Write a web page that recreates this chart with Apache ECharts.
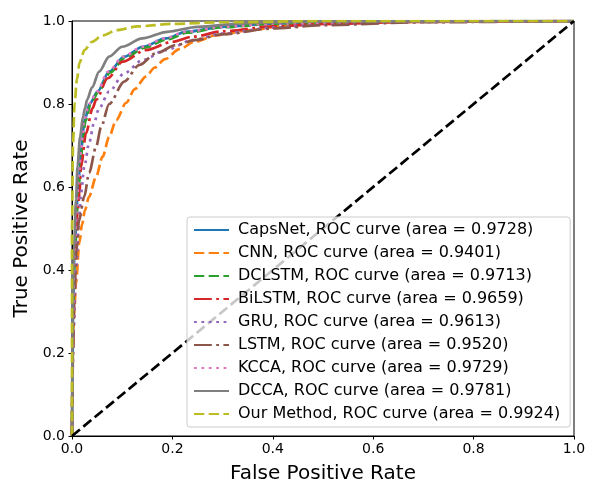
<!DOCTYPE html>
<html><head><meta charset="utf-8">
<script src="https://cdn.jsdelivr.net/npm/echarts@6/dist/echarts.min.js"></script>
<style>html,body{margin:0;padding:0;background:#fff}#c{width:600px;height:500px}</style>
</head><body><div id="c"></div>
<script>
const seriesNames = [
  'CapsNet, ROC curve (area = 0.9728)',
  'CNN, ROC curve (area = 0.9401)',
  'DCLSTM, ROC curve (area = 0.9713)',
  'BiLSTM, ROC curve (area = 0.9659)',
  'GRU, ROC curve (area = 0.9613)',
  'LSTM, ROC curve (area = 0.9520)',
  'KCCA, ROC curve (area = 0.9729)',
  'DCCA, ROC curve (area = 0.9781)',
  'Our Method, ROC curve (area = 0.9924)'
];
const tickValues = [0, 0.2, 0.4, 0.6, 0.8, 1.0];

const capsnetFpr = [0, 0.001, 0.002, 0.005, 0.011, 0.015, 0.018, 0.025, 0.035, 0.051, 0.074, 0.104, 0.141, 0.187, 0.227, 0.3, 0.4, 0.6, 1];
const capsnetTpr = [0, 0.15, 0.3, 0.45, 0.57, 0.634, 0.69, 0.76, 0.8, 0.83, 0.878, 0.914, 0.938, 0.958, 0.974, 0.986, 0.994, 0.999, 1];

const cnnFpr = [0, 0.001, 0.0026, 0.0046, 0.008, 0.0146, 0.02, 0.026, 0.034, 0.048, 0.061, 0.074, 0.088, 0.108, 0.125, 0.147, 0.165, 0.185, 0.214, 0.244, 0.288, 0.355, 0.42, 0.5, 0.6, 0.8, 1];
const cnnTpr = [0, 0.15, 0.255, 0.304, 0.369, 0.465, 0.51, 0.545, 0.577, 0.625, 0.673, 0.721, 0.761, 0.803, 0.836, 0.866, 0.888, 0.908, 0.932, 0.95, 0.966, 0.978, 0.988, 0.993, 0.997, 1, 1];

const dclstmFpr = [0, 0.001, 0.002, 0.006, 0.012, 0.016, 0.02, 0.027, 0.037, 0.053, 0.076, 0.106, 0.145, 0.19, 0.23, 0.3, 0.4, 0.6, 1];
const dclstmTpr = [0, 0.15, 0.3, 0.45, 0.57, 0.634, 0.69, 0.76, 0.8, 0.83, 0.876, 0.912, 0.936, 0.956, 0.972, 0.985, 0.993, 0.999, 1];

const bilstmFpr = [0, 0.002, 0.006, 0.011, 0.015, 0.018, 0.028, 0.041, 0.048, 0.071, 0.101, 0.147, 0.2, 0.24, 0.3, 0.4, 0.5, 0.7, 1];
const bilstmTpr = [0, 0.25, 0.42, 0.537, 0.585, 0.649, 0.73, 0.79, 0.81, 0.862, 0.902, 0.93, 0.95, 0.962, 0.975, 0.987, 0.993, 0.998, 1];

const gruFpr = [0, 0.003, 0.008, 0.0146, 0.018, 0.0245, 0.034, 0.044, 0.054, 0.074, 0.104, 0.141, 0.187, 0.24, 0.3, 0.4, 0.5, 0.7, 1];
const gruTpr = [0, 0.25, 0.4, 0.528, 0.585, 0.649, 0.706, 0.755, 0.79, 0.83, 0.874, 0.906, 0.93, 0.954, 0.97, 0.984, 0.992, 0.998, 1];

const lstmFpr = [0, 0.002, 0.005, 0.009, 0.014, 0.0245, 0.034, 0.048, 0.058, 0.074, 0.104, 0.134, 0.167, 0.207, 0.244, 0.3, 0.4, 0.5, 0.7, 1];
const lstmTpr = [0, 0.2, 0.35, 0.45, 0.52, 0.577, 0.634, 0.697, 0.745, 0.8, 0.854, 0.894, 0.922, 0.942, 0.954, 0.968, 0.982, 0.99, 0.997, 1];

const kccaFpr = [0, 0.001, 0.002, 0.005, 0.01, 0.014, 0.018, 0.024, 0.034, 0.05, 0.072, 0.102, 0.14, 0.185, 0.225, 0.3, 0.4, 0.6, 1];
const kccaTpr = [0, 0.15, 0.3, 0.45, 0.57, 0.634, 0.69, 0.76, 0.8, 0.83, 0.878, 0.914, 0.938, 0.958, 0.974, 0.986, 0.994, 0.999, 1];

const dccaFpr = [0, 0.001, 0.004, 0.008, 0.011, 0.016, 0.022, 0.026, 0.03, 0.04, 0.054, 0.074, 0.1, 0.14, 0.19, 0.25, 0.35, 0.5, 1];
const dccaTpr = [0, 0.3, 0.45, 0.57, 0.65, 0.72, 0.77, 0.79, 0.81, 0.84, 0.878, 0.914, 0.938, 0.958, 0.974, 0.986, 0.995, 0.999, 1];

const oursFpr = [0, 0, 0.002, 0.005, 0.01, 0.015, 0.025, 0.04, 0.06, 0.09, 0.13, 0.2, 0.3, 0.5, 1];
const oursTpr = [0, 0.5, 0.7, 0.8, 0.86, 0.9, 0.93, 0.95, 0.965, 0.978, 0.987, 0.993, 0.997, 1, 1];

const chanceFpr = [0, 1];
const chanceTpr = [0, 1];

const curveData = [
  [capsnetFpr, capsnetTpr], [cnnFpr, cnnTpr], [dclstmFpr, dclstmTpr],
  [bilstmFpr, bilstmTpr], [gruFpr, gruTpr], [lstmFpr, lstmTpr],
  [kccaFpr, kccaTpr], [dccaFpr, dccaTpr], [oursFpr, oursTpr]
];

// styles
const colors = ['#1f77b4', '#ff7f0e', '#2ca02c', '#d62728', '#9467bd', '#8c564b', '#e377c2', '#7f7f7f', '#bcbd22'];
const DASHED = [10.3, 4.4], DASHDOT = [17.8, 4.4, 2.8, 4.4], DOTTED = [2.8, 4.6];
const dashes = ['solid', DASHED, DASHED, DASHDOT, DOTTED, DASHDOT, DOTTED, 'solid', DASHED];
const LW = 2.7;
const FONT = 'DejaVu Sans';

const zip = (a, b) => a.map((v, i) => [v, b[i]]);

const series = curveData.map((d, i) => ({
  name: seriesNames[i],
  type: 'line',
  data: zip(d[0], d[1]),
  symbol: 'none',
  showSymbol: false,
  smooth: 0.3,
  smoothMonotone: 'x',
  animation: false,
  clip: true,
  lineStyle: { color: colors[i], width: LW, type: dashes[i], cap: 'butt' },
  itemStyle: { color: colors[i] },
  z: 2 + i * 0.01
}));
series.push({
  name: 'chance',
  type: 'line',
  data: zip(chanceFpr, chanceTpr),
  symbol: 'none',
  animation: false,
  silent: true,
  lineStyle: { color: '#000', width: LW, type: DASHED, cap: 'butt' },
  z: 3
});

const axisCommon = {
  type: 'value', min: 0, max: 1, interval: 0.2,
  axisLine: { show: true, lineStyle: { color: '#000', width: 1 } },
  axisTick: { show: true, inside: false, length: 3.5, lineStyle: { color: '#000', width: 1 } },
  splitLine: { show: false },
  axisLabel: { color: '#000', fontFamily: FONT, fontSize: 14, formatter: v => v.toFixed(1) },
  nameLocation: 'middle',
  nameTextStyle: { color: '#000', fontFamily: FONT, fontSize: 20 }
};

const chart = echarts.init(document.getElementById('c'), null, { renderer: 'canvas' });
chart.setOption({
  animation: false,
  backgroundColor: '#fff',
  grid: { left: 72, right: 26, top: 21, bottom: 64, show: true, borderColor: '#000', borderWidth: 1, backgroundColor: 'transparent' },
  xAxis: Object.assign({}, axisCommon, {
    name: 'False Positive Rate', nameGap: 28,
    axisLabel: Object.assign({}, axisCommon.axisLabel, { margin: 6 })
  }),
  yAxis: Object.assign({}, axisCommon, {
    name: 'True Positive Rate', nameGap: 39,
    axisLabel: Object.assign({}, axisCommon.axisLabel, { margin: 7 })
  }),
  legend: {
    data: seriesNames,
    orient: 'vertical',
    left: 187, top: 217,
    padding: [5, 10, 5, 6],
    itemWidth: 35, itemHeight: 14, itemGap: 7,
    itemStyle: { opacity: 0 },
    backgroundColor: 'rgba(255,255,255,0.78)',
    borderColor: '#cccccc', borderWidth: 1, borderRadius: 3,
    textStyle: { color: '#000', fontFamily: FONT, fontSize: 16, padding: [0, 0, 0, 4] },
    selectedMode: false,
    z: 10
  },
  series: series
});
</script>
</body></html>
